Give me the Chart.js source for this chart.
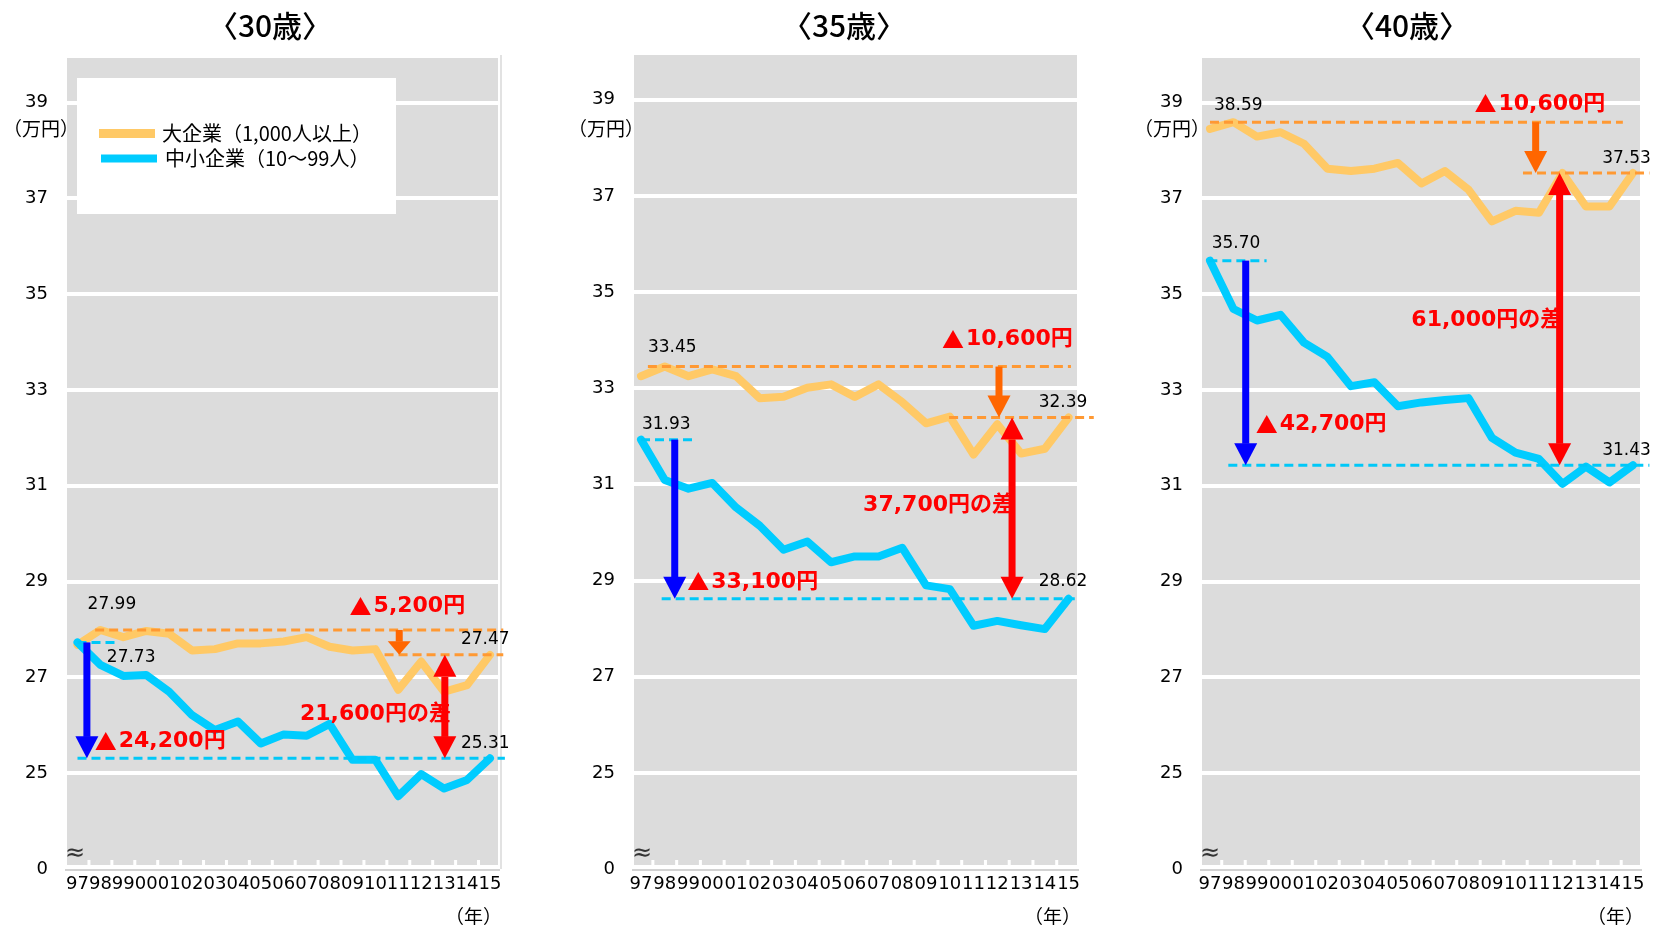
<!DOCTYPE html>
<html lang="ja">
<head>
<meta charset="utf-8">
<title>大企業と中小企業の所定内給与の推移（30歳・35歳・40歳）</title>
<script src="https://cdn.jsdelivr.net/npm/chart.js@4.4.1/dist/chart.umd.min.js"></script>
<style>
  html, body { margin: 0; padding: 0; background: #ffffff; }
  #board { position: relative; width: 1655px; height: 925px; overflow: hidden; }
  #board canvas { position: absolute; top: 0; }
</style>
</head>
<body>
<div id="board">
  <canvas id="age30" width="545" height="925" style="left:0px"></canvas>
  <canvas id="age35" width="555" height="925" style="left:545px"></canvas>
  <canvas id="age40" width="555" height="925" style="left:1100px"></canvas>
</div>
<script>
// 年（1997〜2015年）
const years = ['97', '98', '99', '00', '01', '02', '03', '04', '05', '06',
               '07', '08', '09', '10', '11', '12', '13', '14', '15'];

// 所定内給与（万円）— 大企業（1,000人以上）と中小企業（10〜99人）
const large30 = [27.68, 27.99, 27.84, 27.97, 27.91, 27.56, 27.59, 27.71, 27.71, 27.75,
                 27.84, 27.64, 27.56, 27.59, 26.74, 27.33, 26.70, 26.84, 27.47];
const small30 = [27.73, 27.26, 27.03, 27.05, 26.70, 26.21, 25.90, 26.08, 25.62, 25.81,
                 25.78, 26.03, 25.28, 25.28, 24.52, 24.98, 24.68, 24.86, 25.31];

const large35 = [33.25, 33.45, 33.25, 33.39, 33.25, 32.79, 32.82, 33.01, 33.08, 32.82,
                 33.08, 32.71, 32.27, 32.41, 31.62, 32.25, 31.64, 31.74, 32.39];
const small35 = [31.93, 31.09, 30.91, 31.03, 30.52, 30.14, 29.64, 29.81, 29.38, 29.50,
                 29.50, 29.68, 28.90, 28.82, 28.06, 28.16, 28.07, 27.99, 28.62];

const large40 = [38.45, 38.59, 38.29, 38.38, 38.14, 37.62, 37.57, 37.62, 37.74, 37.31,
                 37.57, 37.18, 36.52, 36.74, 36.70, 37.53, 36.83, 36.83, 37.53];
const small40 = [35.70, 34.69, 34.45, 34.57, 33.99, 33.69, 33.08, 33.16, 32.66, 32.74,
                 32.79, 32.83, 32.00, 31.69, 31.56, 31.04, 31.40, 31.07, 31.43];

// 縦軸の目盛り（下端は省略記号付きの 0）
const yTickValues = [23, 25, 27, 29, 31, 33, 35, 37, 39];
const yTickLabels = ['0', '25', '27', '29', '31', '33', '35', '37', '39'];

const seriesNames = ['大企業（1,000人以上）', '中小企業（10〜99人）'];
const panelTitles = ['〈30歳〉', '〈35歳〉', '〈40歳〉'];

// 比較に使う年：大企業は98年、中小企業は97年、終点は15年
const largeRefIndex = 1;
const smallRefIndex = 0;

// ---- styling ----
const CANVAS_H = 925;
const AREA_BOTTOM = 869;
const PLOT_GREY = '#DCDCDC';
const LARGE_COLOR = '#FFC966';
const SMALL_COLOR = '#00CCFF';
const GUIDE_ORANGE = '#FF9933';
const GUIDE_BLUE = '#00C8F8';
const ARROW_ORANGE = '#FF6600';
const ARROW_RED = '#FF0000';
const ARROW_BLUE = '#0000FF';
const NUM_FONT = '"DejaVu Sans"';
const JP_FONT = '"Noto Sans CJK JP"';

// placement of each panel and of its guide lines, arrows and notes
// (x in year-index units, y in 万円)
const panels = [
  {
    id: 'age30', title: panelTitles[0], large: large30, small: small30,
    width: 545, areaLeft: 67, areaRight: 498, areaTop: 58, xMin: -0.458, xMax: 18.35,
    titleX: 270, unitX: 41, legend: true, rightRule: true,
    place: {
      largeTopDash: [0.77, 18.58], largeEndDash: [13.4, 18.58],
      smallTopDash: [0, 1.7], smallEndDash: [0, 18.65],
      blueArrowX: 0.41, orangeArrowX: 14.04, redArrowX: 16.03,
      dropLargeText: [11.96, 28.48], gapText: [9.71, 26.22], dropSmallText: [0.84, 25.66],
      largeTopLabel: [0.44, 28.51], smallTopLabel: [1.28, 27.42],
      largeEndLabel: [16.73, 27.78], smallEndLabel: [16.73, 25.62]
    }
  },
  {
    id: 'age35', title: panelTitles[1], large: large35, small: small35,
    width: 555, areaLeft: 89, areaRight: 532, areaTop: 55, xMin: -0.295, xMax: 18.354,
    titleX: 299, unitX: 61, legend: false, rightRule: false,
    place: {
      largeTopDash: [0.29, 18.1], largeEndDash: [12.97, 19.06],
      smallTopDash: [0, 2.32], smallEndDash: [0.87, 18.26],
      blueArrowX: 1.42, orangeArrowX: 15.07, redArrowX: 15.62,
      dropLargeText: [12.75, 34.01], gapText: [9.35, 30.56], dropSmallText: [2.03, 28.97],
      largeTopLabel: [0.29, 33.85], smallTopLabel: [0.04, 32.25],
      largeEndLabel: [16.74, 32.71], smallEndLabel: [16.74, 28.97]
    }
  },
  {
    id: 'age40', title: panelTitles[2], large: large40, small: small40,
    width: 555, areaLeft: 102, areaRight: 540, areaTop: 58, xMin: -0.34, xMax: 18.30,
    titleX: 307, unitX: 72, legend: false, rightRule: false,
    place: {
      largeTopDash: [0, 17.57], largeEndDash: [13.32, 18.7],
      smallTopDash: [-0.07, 2.41], smallEndDash: [0.78, 18.7],
      blueArrowX: 1.52, orangeArrowX: 13.86, redArrowX: 14.88,
      dropLargeText: [11.34, 38.97], gapText: [8.57, 34.46], dropSmallText: [2.03, 32.28],
      largeTopLabel: [0.17, 38.94], smallTopLabel: [0.07, 36.06],
      largeEndLabel: [16.69, 37.83], smallEndLabel: [16.69, 31.73]
    }
  }
];
const panelById = {};
panels.forEach(p => { panelById[p.id] = p; });

function yen(diff) {
  return Math.round(diff * 10000).toLocaleString('en-US');
}

function dashed(ctx, x0, x1, y, color) {
  ctx.save();
  ctx.strokeStyle = color;
  ctx.lineWidth = 3;
  ctx.setLineDash([9, 5]);
  ctx.beginPath();
  ctx.moveTo(x0, y);
  ctx.lineTo(x1, y);
  ctx.stroke();
  ctx.restore();
}

function head(ctx, x, tipY, dir, half, h) {
  ctx.beginPath();
  ctx.moveTo(x, tipY);
  ctx.lineTo(x - half, tipY - dir * h);
  ctx.lineTo(x + half, tipY - dir * h);
  ctx.closePath();
  ctx.fill();
}

function arrow(ctx, x, yFrom, yTo, color, both) {
  const len = Math.abs(yTo - yFrom);
  const h = Math.min(22, len * 0.55);
  const half = 11.5, shaft = 7;
  const dir = Math.sign(yTo - yFrom);
  ctx.fillStyle = color;
  const s0 = both ? yFrom + dir * h : yFrom;
  const s1 = yTo - dir * h;
  ctx.fillRect(x - shaft / 2, Math.min(s0, s1), shaft, Math.abs(s1 - s0) + 0.5);
  head(ctx, x, yTo, dir, half, h);
  if (both) head(ctx, x, yFrom, -dir, half, h);
}

function text(ctx, str, x, y, font, color, align) {
  ctx.font = font;
  ctx.fillStyle = color;
  ctx.textAlign = align || 'left';
  ctx.textBaseline = 'middle';
  ctx.fillText(str, x, y);
}

// red "▲xx,xxx円" note: a full-width triangle followed by the amount
const RED_FONT = 'bold 22px ' + NUM_FONT + ', ' + JP_FONT;
const MARK_FONT = 'bold 22px ' + JP_FONT;
function dropNote(ctx, amount, x, y) {
  text(ctx, '▲', x - 2, y, MARK_FONT, ARROW_RED);
  const w = ctx.measureText('▲').width;
  text(ctx, amount + '円', x - 2 + w + 2, y, RED_FONT, ARROW_RED);
}

const panelDecor = {
  id: 'panelDecor',
  beforeDraw(chart) {
    const { ctx, chartArea: a } = chart;
    ctx.save();
    ctx.fillStyle = PLOT_GREY;
    ctx.fillRect(a.left, a.top, a.right - a.left, a.bottom - 4 - a.top);
    ctx.restore();
  },
  afterDraw(chart) {
    const p = panelById[chart.canvas.id];
    const { ctx, chartArea: a } = chart;
    const xs = chart.scales.x, ys = chart.scales.y;
    const px = i => xs.getPixelForValue(i);
    const py = v => ys.getPixelForValue(v);
    const L = p.large, S = p.small, n = L.length - 1;
    const largeTop = L[largeRefIndex], largeEnd = L[n];
    const smallTop = S[smallRefIndex], smallEnd = S[n];
    const pl = p.place;

    ctx.save();

    // white tick marks between years along the bottom of the plot
    ctx.fillStyle = '#FFFFFF';
    for (let i = 0; i < n; i++) {
      ctx.fillRect(px(i + 0.5) - 1.5, a.bottom - 9, 3, 6);
    }
    // base line
    ctx.fillStyle = '#D2D2D2';
    ctx.fillRect(a.left - 2, a.bottom, a.right - a.left + 4, 2);
    if (p.rightRule) {
      ctx.fillStyle = '#E2E2E2';
      ctx.fillRect(a.right + 2, a.top - 3, 2, a.bottom - a.top + 3);
    }

    // axis break mark
    text(ctx, '≈', a.left - 2, a.bottom - 15, '24px ' + NUM_FONT, '#333333', 'left');

    // guide lines at the compared levels
    dashed(ctx, px(pl.largeTopDash[0]), px(pl.largeTopDash[1]), py(largeTop), GUIDE_ORANGE);
    dashed(ctx, px(pl.largeEndDash[0]), px(pl.largeEndDash[1]), py(largeEnd), GUIDE_ORANGE);
    dashed(ctx, px(pl.smallTopDash[0]), px(pl.smallTopDash[1]), py(smallTop), GUIDE_BLUE);
    dashed(ctx, px(pl.smallEndDash[0]), px(pl.smallEndDash[1]), py(smallEnd), GUIDE_BLUE);

    // value labels
    const valFont = '17px ' + NUM_FONT;
    text(ctx, largeTop.toFixed(2), px(pl.largeTopLabel[0]), py(pl.largeTopLabel[1]), valFont, '#000000');
    text(ctx, smallTop.toFixed(2), px(pl.smallTopLabel[0]), py(pl.smallTopLabel[1]), valFont, '#000000');
    text(ctx, largeEnd.toFixed(2), px(pl.largeEndLabel[0]), py(pl.largeEndLabel[1]), valFont, '#000000');
    text(ctx, smallEnd.toFixed(2), px(pl.smallEndLabel[0]), py(pl.smallEndLabel[1]), valFont, '#000000');

    // differences
    dropNote(ctx, yen(largeTop - largeEnd), px(pl.dropLargeText[0]), py(pl.dropLargeText[1]));
    text(ctx, yen(largeEnd - smallEnd) + '円の差', px(pl.gapText[0]), py(pl.gapText[1]), RED_FONT, ARROW_RED);
    dropNote(ctx, yen(smallTop - smallEnd), px(pl.dropSmallText[0]), py(pl.dropSmallText[1]));

    // arrows
    arrow(ctx, px(pl.blueArrowX), py(smallTop), py(smallEnd), ARROW_BLUE, false);
    arrow(ctx, px(pl.orangeArrowX), py(largeTop), py(largeEnd), ARROW_ORANGE, false);
    arrow(ctx, px(pl.redArrowX), py(largeEnd), py(smallEnd), ARROW_RED, true);

    // legend
    if (p.legend) {
      const ds = chart.data.datasets;
      ctx.fillStyle = '#FFFFFF';
      ctx.fillRect(a.left + 10, a.top + 20, 319, 136);
      ctx.lineCap = 'butt';
      ctx.strokeStyle = ds[0].borderColor;
      ctx.lineWidth = 9;
      ctx.beginPath(); ctx.moveTo(a.left + 32, a.top + 75.5); ctx.lineTo(a.left + 88, a.top + 75.5); ctx.stroke();
      ctx.strokeStyle = ds[1].borderColor;
      ctx.lineWidth = 8;
      ctx.beginPath(); ctx.moveTo(a.left + 34, a.top + 100.5); ctx.lineTo(a.left + 90, a.top + 100.5); ctx.stroke();
      const legFont = '20px ' + JP_FONT;
      text(ctx, ds[0].label, a.left + 95, a.top + 75, legFont, '#000000');
      text(ctx, ds[1].label, a.left + 98, a.top + 100, legFont, '#000000');
    }

    // title and unit captions
    text(ctx, p.title, p.titleX, 26, '500 30px ' + JP_FONT, '#000000', 'center');
    text(ctx, '（万円）', p.unitX, 129, '19px ' + JP_FONT, '#000000', 'center');
    text(ctx, '（年）', a.right + 4, 917, '19px ' + JP_FONT, '#000000', 'right');

    ctx.restore();
  }
};

function toPoints(values) {
  return values.map((v, i) => ({ x: i, y: v }));
}

function makeChart(p) {
  const canvas = document.getElementById(p.id);
  return new Chart(canvas, {
    type: 'line',
    data: {
      datasets: [
        { label: seriesNames[0], data: toPoints(p.large), borderColor: LARGE_COLOR, borderWidth: 8, order: 1 },
        { label: seriesNames[1], data: toPoints(p.small), borderColor: SMALL_COLOR, borderWidth: 8, order: 0 }
      ]
    },
    options: {
      responsive: false,
      animation: false,
      events: [],
      layout: { padding: { left: 0, right: p.width - p.areaRight, top: p.areaTop, bottom: 0 } },
      elements: {
        point: { radius: 0, hoverRadius: 0 },
        line: { tension: 0, fill: false, borderJoinStyle: 'round', borderCapStyle: 'round' }
      },
      plugins: { legend: { display: false }, tooltip: { enabled: false }, title: { display: false } },
      scales: {
        x: {
          type: 'linear',
          min: p.xMin,
          max: p.xMax,
          afterBuildTicks: s => { s.ticks = years.map((_, i) => ({ value: i })); },
          afterFit: s => { s.height = CANVAS_H - AREA_BOTTOM; },
          grid: { display: false },
          border: { display: false },
          ticks: {
            autoSkip: false, maxRotation: 0, minRotation: 0, padding: -3,
            color: '#000000', font: { family: 'DejaVu Sans', size: 18 },
            callback: v => years[v]
          }
        },
        y: {
          type: 'linear',
          min: 23,
          max: 39.93,
          afterBuildTicks: s => { s.ticks = yTickValues.map(v => ({ value: v })); },
          afterFit: s => { s.width = p.areaLeft; },
          grid: {
            color: c => (c.tick && c.tick.value === 23) ? 'rgba(0,0,0,0)' : '#FFFFFF',
            lineWidth: 4,
            drawTicks: false
          },
          border: { display: false },
          ticks: {
            padding: 19,
            color: '#000000', font: { family: 'DejaVu Sans', size: 18 },
            callback: v => yTickLabels[yTickValues.indexOf(v)]
          }
        }
      }
    },
    plugins: [panelDecor]
  });
}

panels.forEach(makeChart);
</script>
</body>
</html>
